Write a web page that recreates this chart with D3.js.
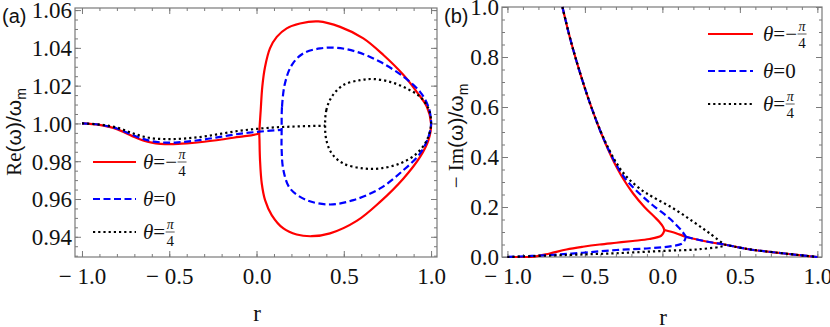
<!DOCTYPE html>
<html><head><meta charset="utf-8">
<script src="https://cdn.jsdelivr.net/npm/d3@7"></script>
<style>
html,body{margin:0;padding:0;background:#fff;}
svg{display:block;}
</style></head>
<body>
<svg id="chart" width="830" height="327"></svg>
<script>
// ---------- DATA ----------
const xTickValues = [-1, -0.5, 0, 0.5, 1];
const leftYTickValues = [0.94, 0.96, 0.98, 1.00, 1.02, 1.04, 1.06];
const rightYTickValues = [0, 0.2, 0.4, 0.6, 0.8, 1.0];
const thetaLabels = ["−", "0", ""]; // sign before π/4; "0" means θ=0
const seriesColors = ["#ff0000", "#0000ff", "#000000"];

// Panel (a): Re(ω)/ωm  — [r, value]
const reRedPre = [[-1,1.0000],[-0.9,0.9992],[-0.8,0.9970],[-0.75,0.9950],[-0.7,0.9928],[-0.65,0.9910],[-0.6,0.9898],[-0.55,0.9892],[-0.5,0.9890],[-0.45,0.9891],[-0.4,0.9894],[-0.3,0.9903],[-0.2,0.9915],[-0.1,0.9929],[0,0.9943],[0.016,0.9947]];
const reRedTop = [[0.016,0.9947],[0.024,1.0070],[0.033,1.0194],[0.049,1.0300],[0.077,1.0397],[0.116,1.0458],[0.173,1.0503],[0.249,1.0529],[0.354,1.0540],[0.479,1.0511],[0.612,1.0450],[0.727,1.0362],[0.842,1.0256],[0.918,1.0167],[0.976,1.0088],[1.0,1.0000]];
const reRedBottom = [[0.016,0.9947],[0.017,0.9912],[0.020,0.9806],[0.030,0.9682],[0.049,0.9594],[0.087,0.9515],[0.154,0.9444],[0.230,0.9412],[0.316,0.9403],[0.421,0.9418],[0.574,0.9484],[0.708,0.9585],[0.842,0.9709],[0.937,0.9823],[0.985,0.9912],[1.0,1.0000]];

const reBluePre = [[-1,1.0000],[-0.9,0.9993],[-0.8,0.9973],[-0.75,0.9955],[-0.7,0.9935],[-0.65,0.9918],[-0.6,0.9906],[-0.55,0.9900],[-0.5,0.9898],[-0.45,0.9900],[-0.4,0.9904],[-0.3,0.9915],[-0.2,0.9930],[-0.1,0.9945],[0,0.9955],[0.1,0.9963],[0.144,0.9966]];
const reBlueTop = [[0.144,0.9966],[0.146,1.0088],[0.163,1.0212],[0.202,1.0309],[0.268,1.0371],[0.364,1.0397],[0.460,1.0400],[0.574,1.0379],[0.708,1.0326],[0.842,1.0247],[0.937,1.0167],[0.985,1.0088],[1.0,1.0000]];
const reBlueBottom = [[0.144,0.9966],[0.144,0.9859],[0.154,0.9753],[0.192,0.9656],[0.288,0.9594],[0.421,0.9571],[0.555,0.9594],[0.708,0.9656],[0.842,0.9753],[0.937,0.9841],[0.985,0.9929],[1.0,1.0000]];

const reBlackPre = [[-1,1.0000],[-0.9,0.9994],[-0.8,0.9978],[-0.75,0.9962],[-0.7,0.9945],[-0.65,0.9931],[-0.6,0.9922],[-0.55,0.9918],[-0.5,0.9917],[-0.4,0.9921],[-0.3,0.9931],[-0.2,0.9946],[-0.1,0.9961],[0,0.9971],[0.1,0.9979],[0.2,0.9983],[0.3,0.9986],[0.393,0.9988]];
const reBlackTop = [[0.393,0.9988],[0.400,1.0070],[0.431,1.0141],[0.497,1.0203],[0.593,1.0229],[0.669,1.0235],[0.765,1.0220],[0.860,1.0185],[0.937,1.0141],[0.985,1.0079],[1.0,1.0000]];
const reBlackBottom = [[0.393,0.9988],[0.400,0.9912],[0.431,0.9841],[0.497,0.9788],[0.612,0.9762],[0.708,0.9762],[0.822,0.9788],[0.918,0.9841],[0.976,0.9912],[1.0,1.0000]];

// Panel (b): -Im(ω)/ωm — [r, value]
const imUpperShared = [[-0.645,1.0],[-0.60,0.885],[-0.555,0.785],[-0.50,0.675],[-0.456,0.595],[-0.40,0.503]];
const imRedUpper = [[-0.40,0.503],[-0.35,0.430],[-0.30,0.365],[-0.25,0.310],[-0.19,0.255],[-0.116,0.200],[-0.05,0.160],[-0.019,0.140],[0.003,0.122],[0.013,0.108]];
const imRedLower = [[-1.0,0],[-0.834,0.001],[-0.727,0.014],[-0.619,0.030],[-0.513,0.041],[-0.405,0.050],[-0.298,0.057],[-0.191,0.064],[-0.084,0.072],[-0.008,0.085],[0.009,0.100],[0.013,0.108]];
const imBlueUpper = [[-0.40,0.503],[-0.35,0.433],[-0.30,0.372],[-0.25,0.322],[-0.169,0.266],[-0.062,0.207],[0.045,0.155],[0.12,0.108],[0.152,0.081]];
const imBlueLower = [[-1.0,0],[-0.727,0.008],[-0.513,0.017],[-0.298,0.028],[-0.084,0.035],[0.066,0.044],[0.131,0.055],[0.152,0.081]];
const imBlackUpper = [[-0.40,0.505],[-0.35,0.437],[-0.30,0.380],[-0.244,0.330],[-0.191,0.297],[-0.12,0.262],[-0.062,0.240],[0.066,0.196],[0.195,0.143],[0.302,0.096],[0.399,0.050]];
const imBlackLower = [[-1.0,0],[-0.619,0.008],[-0.298,0.015],[0.024,0.025],[0.238,0.031],[0.399,0.046],[0.399,0.050]];
const imPost = [[0.013,0.108],[0.088,0.095],[0.152,0.081],[0.238,0.068],[0.32,0.058],[0.399,0.050],[0.559,0.031],[0.774,0.015],[1.0,0]];

// ---------- DRAW ----------
const svg = d3.select("#chart");
const serif = "'Liberation Serif','Times New Roman',serif";
const sans = "'Liberation Sans','DejaVu Sans',sans-serif";
const frameColor = "#7a7a7a";

const panels = {
  a: {
    x: d3.scaleLinear().domain([-1.04, 1.034]).range([75, 437]),
    y: d3.scaleLinear().domain([0.9293, 1.0611]).range([257, 8]),
    yTicks: leftYTickValues, yMinor: 0.005, yFmt: d3.format(".2f")
  },
  b: {
    x: d3.scaleLinear().domain([-1.035, 1.03]).range([502, 822]),
    y: d3.scaleLinear().domain([0, 1]).range([257, 7]),
    yTicks: rightYTickValues, yMinor: 0.05, yFmt: d3.format(".1f")
  }
};

function xFmt(d){ return d < 0 ? "− " + d3.format(".1f")(-d) : d3.format(".1f")(d); }

function drawFrame(p){
  const [x0,x1] = p.x.range(), [y0,y1] = p.y.range();
  const xMinor = d3.range(-1, 1.0001, 0.1).map(v => +v.toFixed(2));
  const [yd0, yd1] = p.y.domain();
  const yMinor = d3.range(Math.ceil(yd0/p.yMinor)*p.yMinor, yd1+1e-9, p.yMinor).map(v=>+v.toFixed(4));
  const g = svg.append("g");
  const styleAxis = sel => { sel.select(".domain").remove(); sel.selectAll("line").attr("stroke", frameColor); };
  g.append("g").attr("transform",`translate(0,${y0})`).call(d3.axisBottom(p.x).tickValues(xMinor).tickSize(-3).tickFormat("")).call(styleAxis);
  g.append("g").attr("transform",`translate(0,${y1})`).call(d3.axisTop(p.x).tickValues(xMinor).tickSize(-3).tickFormat("")).call(styleAxis);
  g.append("g").attr("transform",`translate(${x0},0)`).call(d3.axisLeft(p.y).tickValues(yMinor).tickSize(-3).tickFormat("")).call(styleAxis);
  g.append("g").attr("transform",`translate(${x1},0)`).call(d3.axisRight(p.y).tickValues(yMinor).tickSize(-3).tickFormat("")).call(styleAxis);
  const bx = g.append("g").attr("transform",`translate(0,${y0})`)
    .call(d3.axisBottom(p.x).tickValues(xTickValues).tickSize(-6).tickPadding(11).tickFormat(xFmt)).call(styleAxis);
  bx.attr("font-family", serif).attr("font-size", 23);
  bx.selectAll("text").attr("fill","#111");
  g.append("g").attr("transform",`translate(0,${y1})`).call(d3.axisTop(p.x).tickValues(xTickValues).tickSize(-6).tickFormat("")).call(styleAxis);
  const ly = g.append("g").attr("transform",`translate(${x0},0)`)
    .call(d3.axisLeft(p.y).tickValues(p.yTicks).tickSize(-6).tickPadding(3).tickFormat(p.yFmt)).call(styleAxis);
  ly.attr("font-family", serif).attr("font-size", 23);
  ly.selectAll("text").attr("fill","#111").attr("dy","0.34em");
  g.append("g").attr("transform",`translate(${x1},0)`).call(d3.axisRight(p.y).tickValues(p.yTicks).tickSize(-6).tickFormat("")).call(styleAxis);
  g.append("rect").attr("x",x0).attr("y",y1).attr("width",x1-x0).attr("height",y0-y1)
    .attr("fill","none").attr("stroke",frameColor).attr("stroke-width",1.2);
}

drawFrame(panels.a);
drawFrame(panels.b);

const dashes = [null, "7,3.5", "2.2,3"];
function styleLine(sel, i){
  sel.attr("fill","none").attr("stroke", seriesColors[i]).attr("stroke-width", 2.2)
     .attr("stroke-dasharray", dashes[i]).attr("stroke-linejoin","round");
}

const defs = svg.append("defs");
defs.append("clipPath").attr("id","clipA").append("rect").attr("x",75).attr("y",8).attr("width",362).attr("height",249);
defs.append("clipPath").attr("id","clipB").append("rect").attr("x",502).attr("y",6).attr("width",320).attr("height",252);
const gA = svg.append("g").attr("clip-path","url(#clipA)");
const gB = svg.append("g").attr("clip-path","url(#clipB)");

const pa = panels.a, pb = panels.b;
const lineA = d3.line().x(d=>pa.x(d[0])).y(d=>pa.y(d[1])).curve(d3.curveMonotoneX);
const loopA = d3.line().x(d=>pa.x(d[0])).y(d=>pa.y(d[1])).curve(d3.curveCatmullRomClosed.alpha(0.5));
const lineB = d3.line().x(d=>pb.x(d[0])).y(d=>pb.y(d[1])).curve(d3.curveCatmullRom.alpha(0.5));

const reSets = [[reRedPre, reRedTop, reRedBottom],[reBluePre, reBlueTop, reBlueBottom],[reBlackPre, reBlackTop, reBlackBottom]];
const imSets = [
  [imUpperShared.concat(imRedUpper.slice(1)), imRedLower, imPost],
  [imUpperShared.concat(imBlueUpper.slice(1)), imBlueLower, imPost.filter(d=>d[0]>=0.152)],
  [imUpperShared.slice(0,-1).concat(imBlackUpper), imBlackLower, imPost.filter(d=>d[0]>=0.399)]
];

[0,1,2].forEach(i => {
  const [pre, top, bot] = reSets[i];
  gA.append("path").attr("d", lineA(pre)).call(styleLine, i);
  const loop = top.concat(bot.slice().reverse().slice(1, -1));
  gA.append("path").attr("d", loopA(loop)).call(styleLine, i);
  const [up, low, post] = imSets[i];
  gB.append("path").attr("d", lineB(up)).call(styleLine, i);
  gB.append("path").attr("d", lineB(low)).call(styleLine, i);
  gB.append("path").attr("d", lineB(post)).call(styleLine, i);
});

// legends
function legend(x0, x1, tx, rows){
  rows.forEach((ly, i) => {
    svg.append("line").attr("x1",x0).attr("x2",x1).attr("y1",ly).attr("y2",ly).call(styleLine, i);
    const t = svg.append("text").attr("x",tx).attr("y",ly+7).attr("font-family",serif).attr("font-size",21).attr("fill","#111");
    t.append("tspan").attr("font-style","italic").text("θ");
    t.append("tspan").text("=" + (thetaLabels[i] === "0" ? "0" : thetaLabels[i]));
    if (thetaLabels[i] !== "0") {
      const w = t.node().getComputedTextLength();
      const fx = tx + w + 5;
      svg.append("text").attr("x",fx).attr("y",ly-3).attr("text-anchor","middle").attr("font-family",serif).attr("font-style","italic").attr("font-size",14).attr("fill","#111").text("π");
      svg.append("line").attr("x1",fx-4.5).attr("x2",fx+4.5).attr("y1",ly).attr("y2",ly).attr("stroke","#111").attr("stroke-width",0.7);
      svg.append("text").attr("x",fx).attr("y",ly+14).attr("text-anchor","middle").attr("font-family",serif).attr("font-size",15).attr("fill","#111").text("4");
    }
  });
}
legend(93, 136, 143, [162, 199, 232]);
legend(708, 753, 763, [34, 71, 104]);

// panel tags
svg.append("text").attr("x",2).attr("y",23).attr("font-family",sans).attr("font-size",20).attr("fill","#111").text("(a)");
svg.append("text").attr("x",444).attr("y",23).attr("font-family",sans).attr("font-size",20).attr("fill","#111").text("(b)");

// axis titles
function yTitle(x, y, pre){
  const t = svg.append("text").attr("transform",`translate(${x},${y}) rotate(-90)`).attr("text-anchor","middle")
    .attr("font-size",21).attr("fill","#111");
  t.append("tspan").attr("font-family",serif).text(pre);
  t.append("tspan").attr("font-family",sans).text("(ω)/ω");
  t.append("tspan").attr("font-family",sans).attr("font-size",14).attr("dy",5).text("m");
}
yTitle(21, 132, "Re");
yTitle(463, 136, "− Im");

svg.append("text").attr("x",257).attr("y",321).attr("text-anchor","middle").attr("font-family",serif).attr("font-size",23).attr("fill","#111").text("r");
svg.append("text").attr("x",663).attr("y",325).attr("text-anchor","middle").attr("font-family",serif).attr("font-size",23).attr("fill","#111").text("r");
</script>
</body></html>
